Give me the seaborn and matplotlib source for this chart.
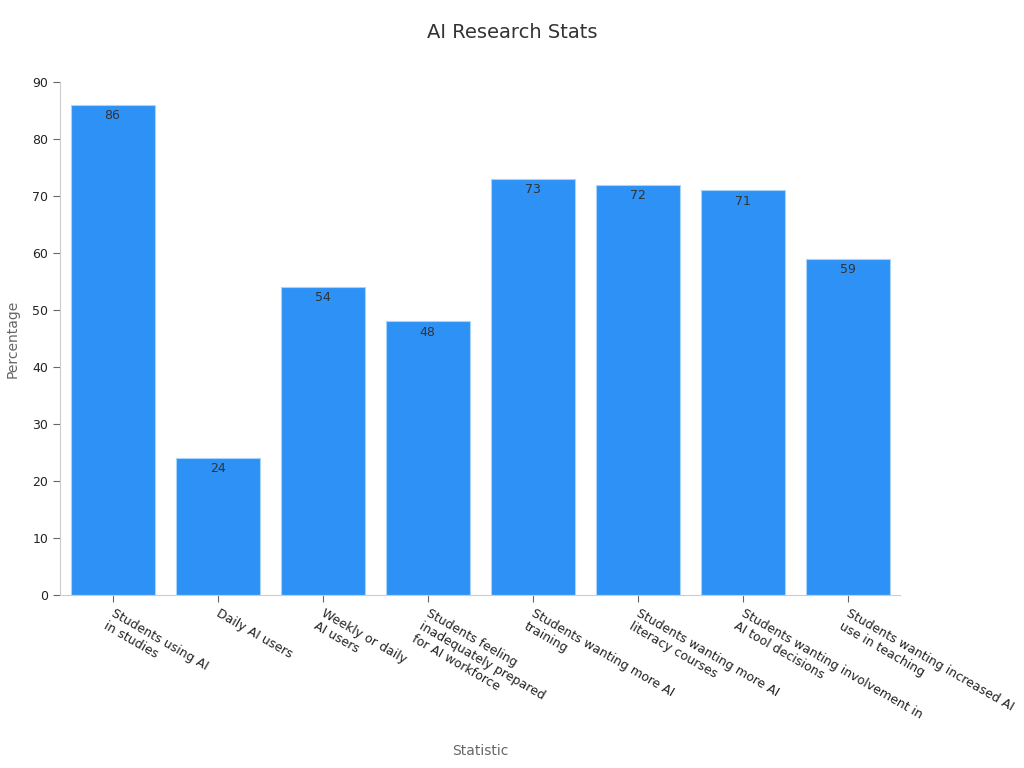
import numpy as np
import pandas as pd
import seaborn as sns
import matplotlib.pyplot as plt
import matplotlib.transforms as mtransforms

# chart data
statistics = [
    "Students using AI\nin studies",
    "Daily AI users",
    "Weekly or daily\nAI users",
    "Students feeling\ninadequately prepared\nfor AI workforce",
    "Students wanting more AI\ntraining",
    "Students wanting more AI\nliteracy courses",
    "Students wanting involvement in\nAI tool decisions",
    "Students wanting increased AI\nuse in teaching",
]
percentages = [86, 24, 54, 48, 73, 72, 71, 59]

df = pd.DataFrame({"Statistic": statistics, "Percentage": percentages})

sns.set_style("white")
plt.rcParams["font.family"] = ["DejaVu Sans"]

fig = plt.figure(figsize=(10.24, 7.68), dpi=100)
ax = fig.add_axes([0.0586, 0.2253, 0.8204, 0.6677])

sns.barplot(data=df, x="Statistic", y="Percentage", color="#2E91F5",
            edgecolor="#A9D4FA", linewidth=0.8, width=0.8, saturation=1, ax=ax)

for i, v in enumerate(percentages):
    ax.annotate(str(v), (i, v), xytext=(0, -3), textcoords="offset points",
                ha="center", va="top", fontsize=9, color="#333333")

ax.set_ylim(0, 90)
ax.set_yticks(np.arange(0, 91, 10))
ax.set_xlim(-0.5, len(statistics) - 0.5)

for spine in ["top", "right"]:
    ax.spines[spine].set_visible(False)
for spine in ["left", "bottom"]:
    ax.spines[spine].set_color("#CCCCCC")

ax.tick_params(axis="both", length=5, color="#666666", labelsize=9,
               labelcolor="#222222", bottom=True, left=True)
shift = mtransforms.ScaledTranslation(3 / 100, 0, fig.dpi_scale_trans)
for lbl in ax.get_xticklabels():
    lbl.set_rotation(-30)
    lbl.set_ha("left")
    lbl.set_rotation_mode("anchor")
    lbl.set_transform(lbl.get_transform() + shift)

ax.set_xlabel("Statistic", fontsize=10, color="#666666")
ax.set_ylabel("Percentage", fontsize=10, color="#666666", labelpad=9)
ax.xaxis.set_label_coords(0.5, -0.29)

fig.suptitle("AI Research Stats", fontsize=14, color="#333333", y=0.97)

fig.savefig("out.png", dpi=100)
